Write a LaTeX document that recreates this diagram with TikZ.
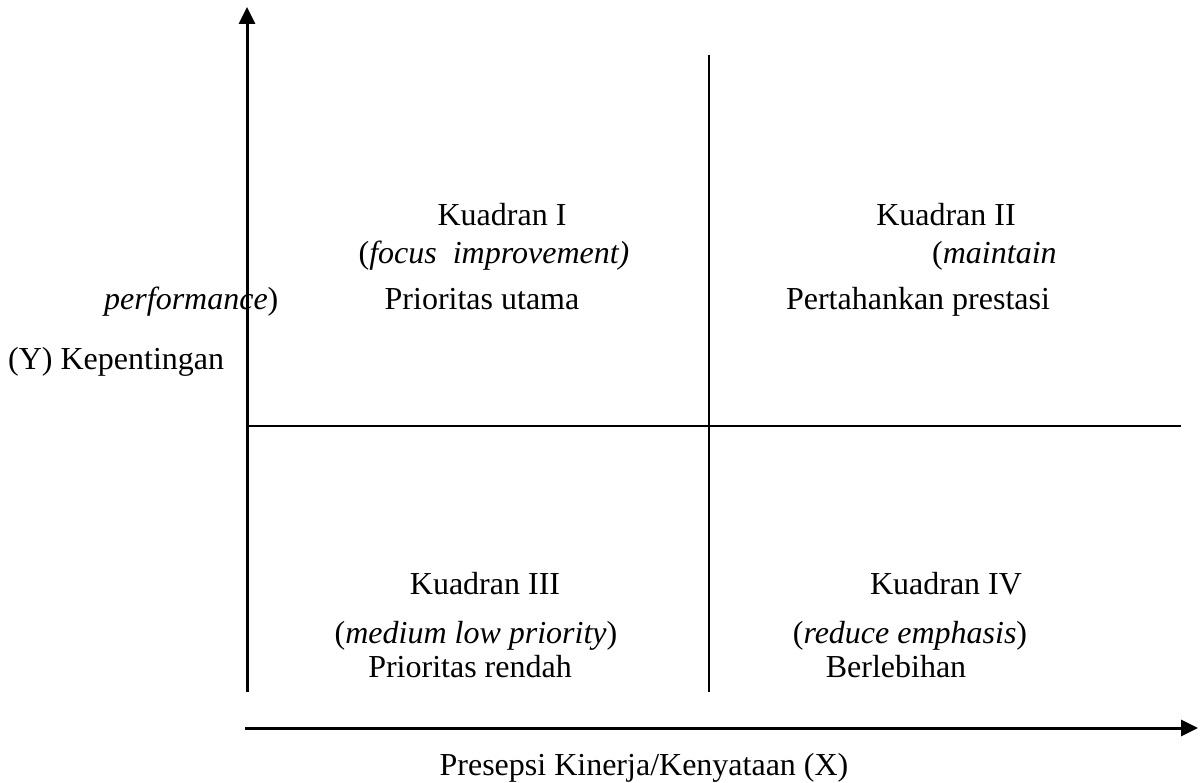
\documentclass[tikz,border=0pt]{standalone}
\usepackage{fontspec}
\setmainfont{Liberation Serif}
\usetikzlibrary{arrows.meta}
\begin{document}
\begin{tikzpicture}[x=1pt,y=-1pt,
  lbl/.style={inner sep=0pt,anchor=base,font=\fontsize{32}{38}\selectfont},
  axisline/.style={line width=3pt,-{Triangle[length=17pt,width=16pt]}},
  divline/.style={line width=2pt}]
\useasboundingbox (0,0) rectangle (1203,783);
% axis coordinates
\coordinate (o) at (247,692);
\coordinate (ytop) at (247,7);
\coordinate (xs) at (245,728);
\coordinate (xe) at (1198,728);
\coordinate (mt) at (709,55);
\coordinate (mb) at (709,692);
\coordinate (hl) at (247,426);
\coordinate (hr) at (1181,426);
\draw[axisline] (o) -- (ytop);
\draw[axisline] (xs) -- (xe);
\draw[divline] (mt) -- (mb);
\draw[divline] (hl) -- (hr);
% labels
\node[lbl] (k1) at (502,226) {Kuadran I};
\node[lbl] (k1e) at (494,264) {(\textit{focus\ \ improvement)}};
\node[lbl] (k2) at (946,226) {Kuadran II};
\node[lbl,anchor=base west] (k2e) at (932,264) {(\textit{maintain}};
\node[lbl,anchor=base west] (k2f) at (104,310) {\textit{performance})};
\node[lbl] (k1i) at (482,310) {Prioritas utama};
\node[lbl] (k2i) at (918,310) {Pertahankan prestasi};
\node[lbl,anchor=base west] (ylab) at (8,370) {(Y) Kepentingan};
\node[lbl] (k3) at (485,594) {Kuadran III};
\node[lbl] (k3e) at (476,643) {(\textit{medium low priority})};
\node[lbl] (k3i) at (470,677) {Prioritas rendah};
\node[lbl] (k4) at (946,594) {Kuadran IV};
\node[lbl] (k4e) at (910,643) {(\textit{reduce emphasis})};
\node[lbl] (k4i) at (896,677) {Berlebihan};
\node[lbl] (xlab) at (644,775) {Presepsi Kinerja/Kenyataan (X)};
\end{tikzpicture}
\end{document}
